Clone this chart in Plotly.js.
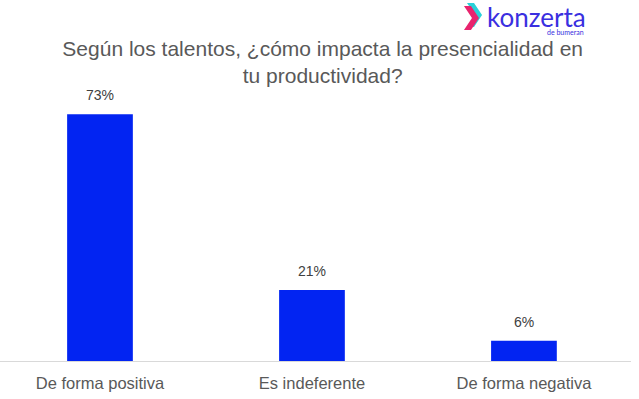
<!DOCTYPE html>
<html><head><meta charset="utf-8">
<script src="https://cdn.plot.ly/plotly-3.0.1.min.js"></script>
<style>html,body{margin:0;padding:0;background:#fff;}#chart{width:639px;height:399px;}</style>
</head><body><div id="chart"></div>
<script>
var categories = ["De forma positiva", "Es indeferente", "De forma negativa"];
var values = [73, 21, 6];
var valueLabels = ["73%", "21%", "6%"];

var PW = 631, PH = 281, TOP = 80;
function px(x) { return x / PW; }
function py(y) { return (TOP + PH - y) / PH; }
function chevron(pts) {
  return "M " + pts.map(function (p) { return px(p[0]).toFixed(4) + " " + py(p[1]).toFixed(4); }).join(" L ") + " Z";
}

var trace = {
  type: "bar",
  x: categories,
  y: values,
  width: 0.31,
  marker: {color: "#0224F2"},
  hoverinfo: "none"
};

var labelAnnotations = categories.map(function (c, i) {
  return {x: c, y: values[i], xref: "x", yref: "y", text: valueLabels[i], showarrow: false,
          yanchor: "bottom", yshift: 9,
          font: {family: "Liberation Sans, Arial, sans-serif", size: 14, color: "#404040"}};
});

var layout = {
  width: 639, height: 399,
  margin: {l: 0, r: 8, t: TOP, b: 399 - TOP - PH},
  paper_bgcolor: "#fff", plot_bgcolor: "#fff",
  showlegend: false,
  title: {
    text: "Según los talentos, ¿cómo impacta la presencialidad en<br>tu productividad?",
    font: {family: "Liberation Sans, Arial, sans-serif", size: 21, color: "#595959"},
    x: 0.505, xanchor: "center", y: 0.86, yanchor: "top"
  },
  xaxis: {
    range: [-0.4717, 2.505],
    showline: true, linecolor: "#d9d9d9", linewidth: 1,
    ticks: "", showgrid: false, zeroline: false,
    ticklabelstandoff: 7,
    tickfont: {family: "Liberation Sans, Arial, sans-serif", size: 16.5, color: "#595959"}
  },
  yaxis: {
    range: [0, 83.1], visible: false, showgrid: false, zeroline: false
  },
  shapes: [
    {type: "path", xref: "paper", yref: "paper",
     path: chevron([[467, 3], [474, 3], [482, 15], [474, 27], [467, 27], [475, 15]]),
     fillcolor: "#2ad1d8", line: {width: 0}, layer: "above"},
    {type: "path", xref: "paper", yref: "paper",
     path: chevron([[464, 6], [471, 6], [479, 18], [471, 30], [464, 30], [472, 18]]),
     fillcolor: "#e8246e", line: {width: 0}, layer: "above"}
  ],
  annotations: labelAnnotations.concat([
    {xref: "paper", yref: "paper", x: px(485), y: py(-1), xanchor: "left", yanchor: "top",
     text: "konzerta", showarrow: false,
     font: {family: "Lato, Inter, sans-serif", size: 26, color: "#3a2fe0"}},
    {xref: "paper", yref: "paper", x: px(586), y: py(26), xanchor: "right", yanchor: "top",
     text: "de bumeran", showarrow: false,
     font: {family: "Lato, Inter, sans-serif", size: 7, color: "#3a2fe0"}}
  ])
};

Plotly.newPlot("chart", [trace], layout, {displayModeBar: false, staticPlot: true});
</script>
</body></html>
